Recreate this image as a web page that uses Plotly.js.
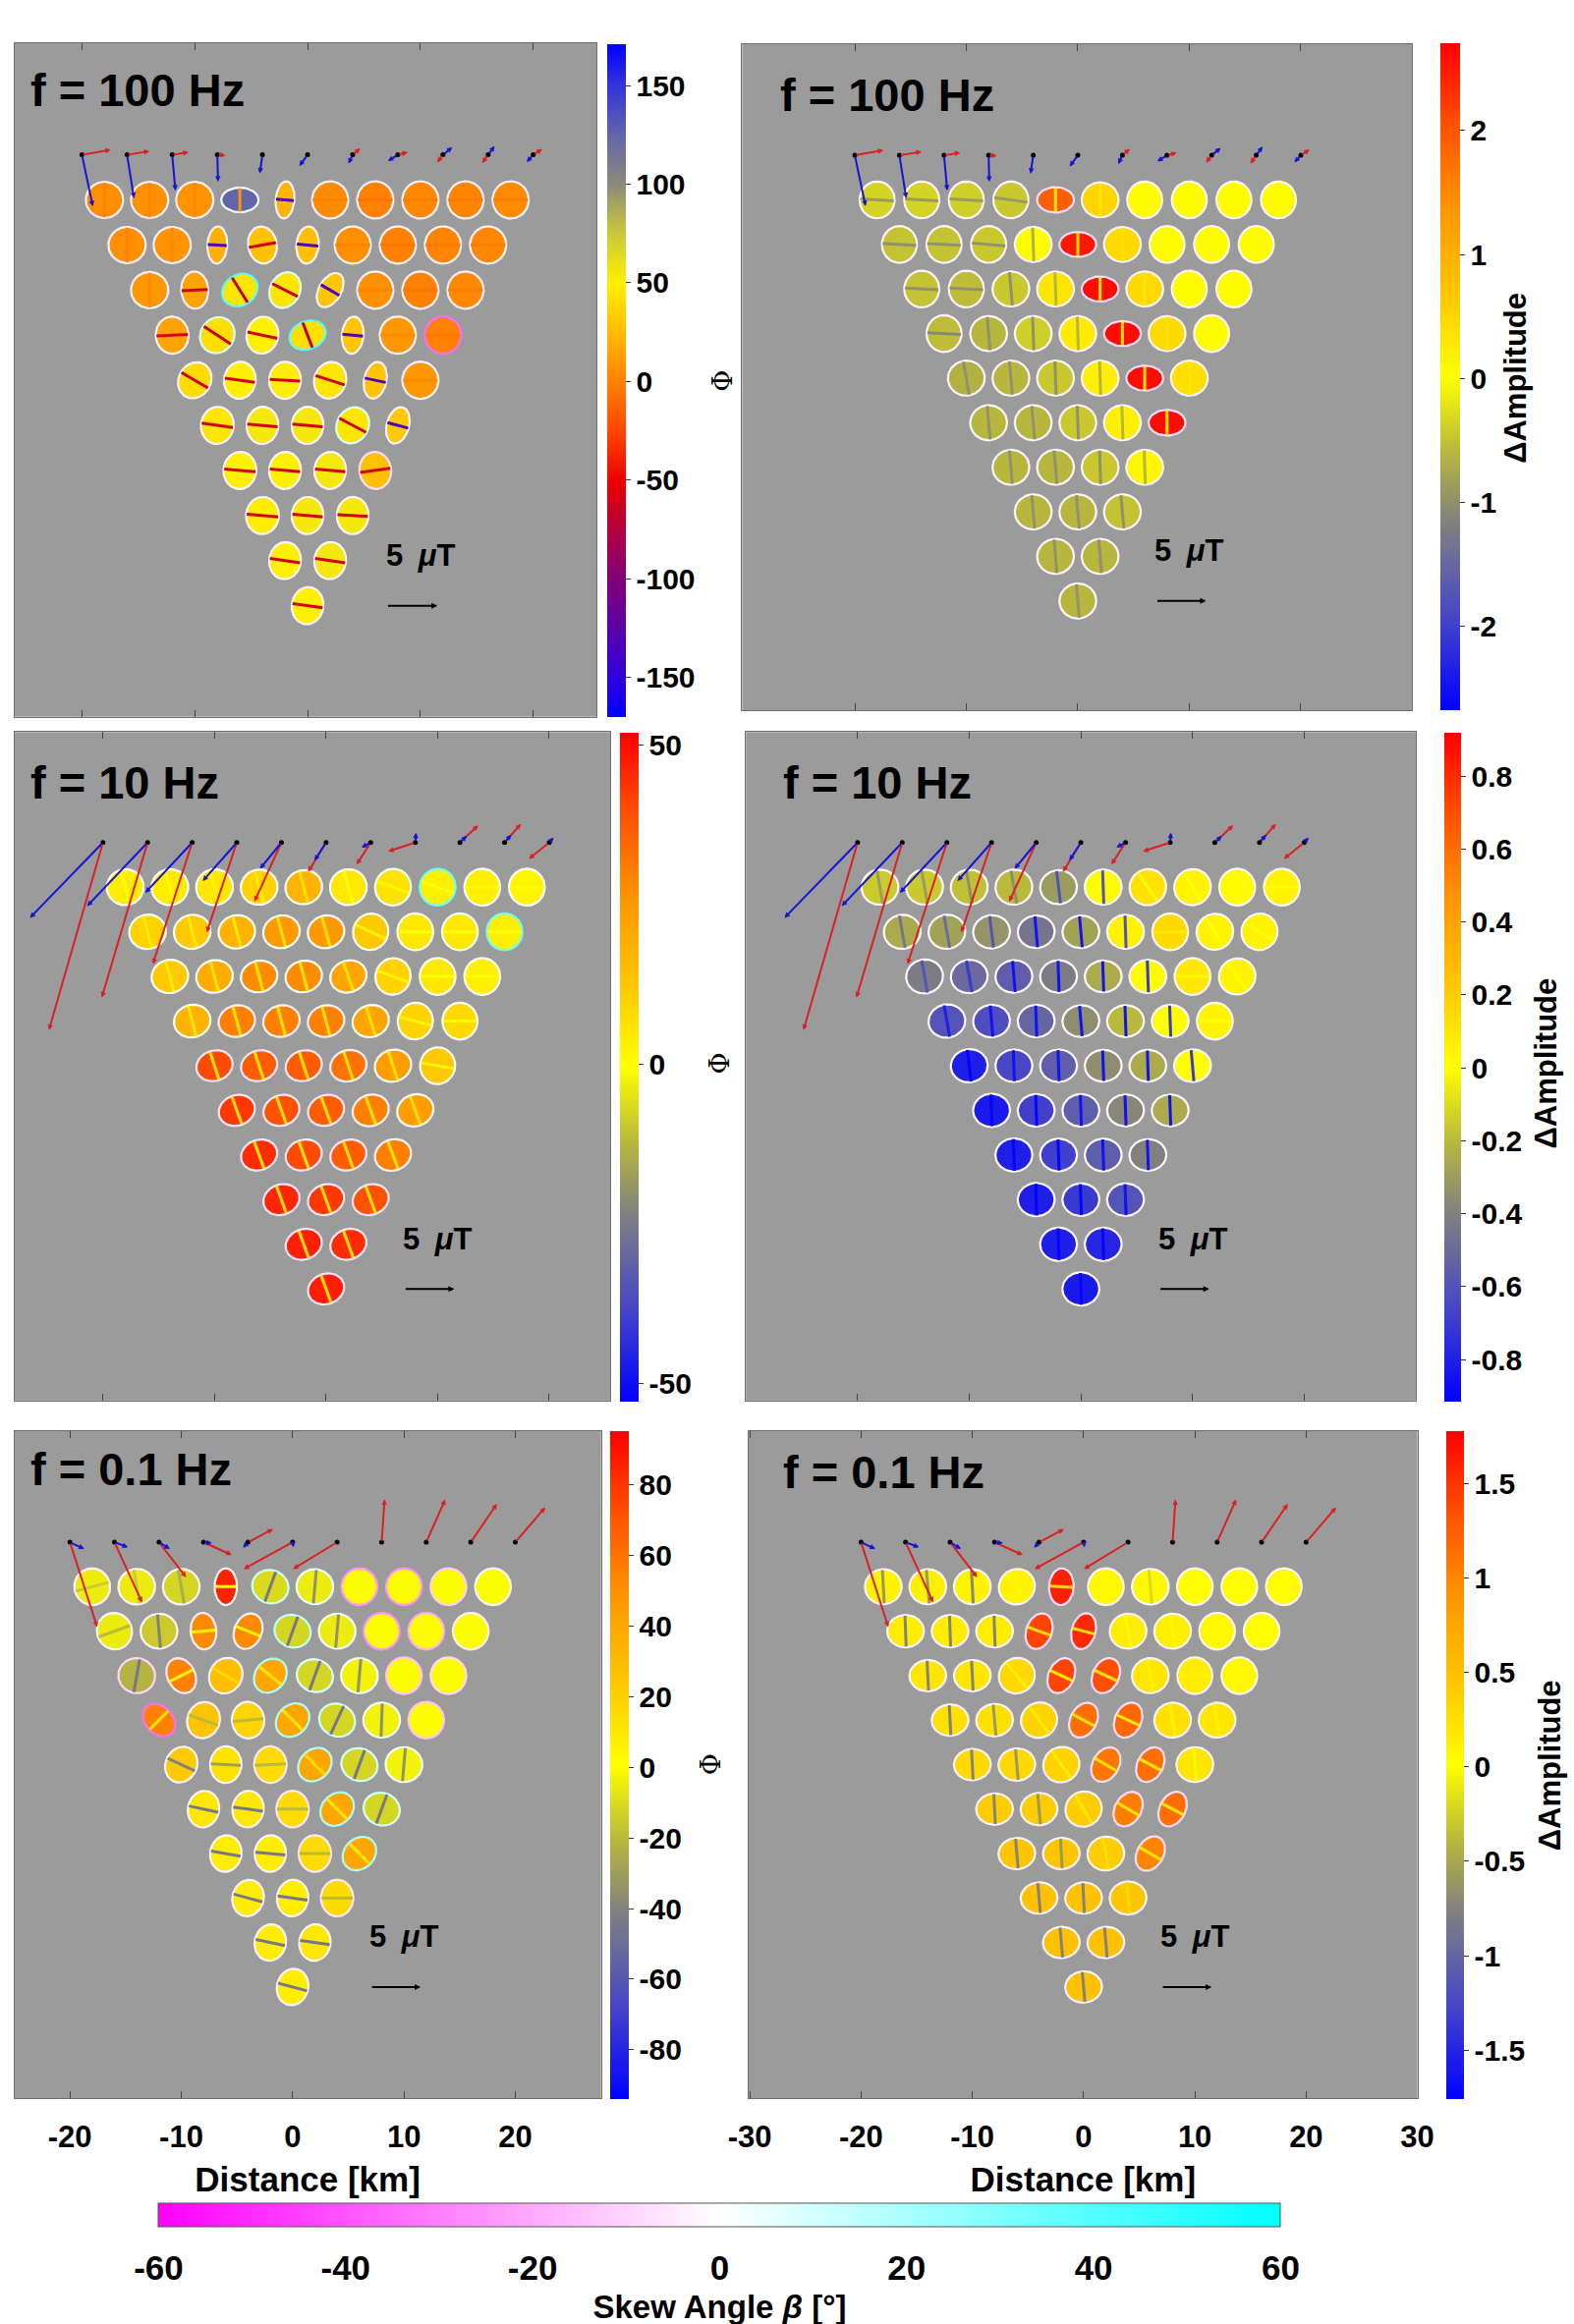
<!DOCTYPE html>
<html><head><meta charset="utf-8">
<script src="https://cdn.plot.ly/plotly-3.0.1.min.js"></script>
<style>html,body{margin:0;padding:0;background:#fff}</style>
</head><body><div id="chart" style="width:1602px;height:2366px"></div>
<script>
// ---------- station layout (km) ----------
const STATION_X = [-18,-14,-10,-6,-2,2,6,10,14,18, -16,-12,-8,-4,0,4,8,12,16, -14,-10,-6,-2,2,6,10,14, -12,-8,-4,0,4,8,12, -10,-6,-2,2,6,10, -8,-4,0,4,8, -6,-2,2,6, -4,0,4, -2,2, 0];
const STATION_Y = [18,18,18,18,18,18,18,18,18,18, 14,14,14,14,14,14,14,14,14, 10,10,10,10,10,10,10,10, 6,6,6,6,6,6,6, 2,2,2,2,2,2, -2,-2,-2,-2,-2, -6,-6,-6,-6, -10,-10,-10, -14,-14, -18];
const ARROW_X = [-20,-16,-12,-8,-4,0,4,8,12,16,20];
const ARROW_Y = [22,22,22,22,22,22,22,22,22,22,22];

// ---------- induction vectors (uT) ----------
const RE100_U = [2.84,2.2,1.61,0.81,0.13,0.17,0.74,0.97,-0.56,-0.58,0.87];
const RE100_V = [0.49,0.36,0.26,-0.06,0.06,0.11,0.64,0.26,-0.74,-0.81,0.58];
const IM100_U = [1.07,0.68,0.32,0.07,-0.26,-0.81,-0.42,-0.97,0.91,0.64,-0.64];
const IM100_V = [-5.07,-4.27,-3.52,-2.64,-1.84,-1.11,-0.87,-0.61,0.74,0.87,-0.71];
const RE10_U = [-5.38,-4.56,-3.92,-3.0,-2.69,-1.79,-1.4,-2.7,1.82,1.63,-2.02];
const RE10_V = [-18.67,-15.44,-12.11,-8.94,-5.89,-2.93,-2.18,-0.88,1.72,1.86,-1.63];
const IM10_U = [-7.27,-6.02,-4.67,-3.39,-2.14,-1.14,-0.91,0.07,0.69,0.67,0.44];
const IM10_V = [-7.5,-6.32,-5.0,-3.83,-2.62,-1.79,-0.49,0.98,0.66,0.78,0.5];
const RE01_U = [2.72,2.76,2.71,2.81,2.48,-4.88,-4.41,0.29,1.9,2.61,2.99];
const RE01_V = [-8.47,-6.02,-3.51,-1.28,1.31,-2.68,-2.68,4.28,4.28,3.83,3.48];
const IM01_U = [1.43,1.34,1.09,0.83,-0.5,0.1,0.06,0,0,0,0];
const IM01_V = [-0.67,-0.51,-0.67,-0.09,-0.56,-0.5,0.06,0.03,0,0,0];
const REF_UT = 5;

// ---------- 100 Hz, Phi ----------
const VAL_TL = [6,7,8,125,22,5,0,3,2,4, 6,8,20,28,27,6,0,2,3, 10,15,45,45,30,7,0,3, 15,42,50,42,30,10,0, 40,50,52,45,30,10, 45,55,55,45,32, 50,50,55,28, 48,55,55, 50,55, 50];
const BAR_TL = [1,2,3,8,-135,0,-5,-2,-3,-1, 1,3,-135,-62,-135,1,-5,-3,-2, 4,-62,-72,-68,-135,2,-5,-2, -58,-66,-62,-72,-135,4,-5, -66,-62,-62,-66,-135,4, -62,-62,-62,-66,-135, -62,-62,-62,-58, -62,-62,-62, -62,-62, -62];
const ANG_TL = [90,90,90,90,-5,0,0,0,0,0, 90,90,-3,10,-5,0,0,0,0, 90,3,-58,-27,-30,0,0,0, 3,-33,-12,-69,-5,0,0, -30,-8,-3,-18,-12,0, -8,-5,-5,-28,-15, -5,-5,-5,8, -5,-5,-3, -8,-8, -8];
const RAT_TL = [0.97,0.97,0.97,0.66,0.5,0.97,0.97,0.97,0.97,0.97, 0.97,0.97,0.53,0.77,0.6,0.97,0.97,0.97,0.97, 0.97,0.73,0.82,0.8,0.6,0.97,0.97,0.97, 0.88,0.9,0.85,0.75,0.58,0.97,0.97, 0.86,0.85,0.85,0.85,0.6,0.97, 0.88,0.85,0.85,0.85,0.6, 0.88,0.85,0.85,0.85, 0.88,0.85,0.85, 0.85,0.85, 0.85];
const SKEW_TL = [-4,-3,-3,5,-3,-3,-3,-3,-3,-3, -3,-3,-3,-3,-3,-3,-3,-3,-3, -3,-5,40,10,-3,-3,-3,-3, -3,12,-3,40,-3,-3,-35, -3,-3,-3,-3,-3,-3, -3,-3,-3,10,-3, -3,-3,-3,-8, -3,-3,-3, -3,-3, -3];

// ---------- 100 Hz, dAmplitude ----------
const VAL_TR = [-0.35,-0.35,-0.4,-0.45,1.9,0.5,0.05,0.05,0.05,0.05, -0.5,-0.5,-0.45,0.05,2.5,0.45,0.05,0.05,0.05, -0.5,-0.55,-0.45,0.3,2.6,0.45,0.05,0.05, -0.55,-0.6,-0.4,0.25,2.6,0.45,0.05, -0.65,-0.6,-0.45,0.2,2.6,0.4, -0.6,-0.6,-0.45,0.2,2.6, -0.6,-0.6,-0.45,0.1, -0.6,-0.6,-0.5, -0.6,-0.6, -0.6];
const BAR_TR = [-0.9,-0.9,-0.9,-0.9,0.3,0.3,0,0,0,0, -1,-1,-1,-0.7,0.4,0.3,0,0,0, -1,-1,-1,-0.6,0.3,0.3,0,0, -1.1,-1,-1,-0.6,0.3,0.3,0, -1,-1,-1,-0.6,0.3,0.3, -1,-1,-1,-0.6,0.3, -1,-1,-1,-0.6, -1,-1,-1, -1,-1, -1];
const ANG_TR = [-3,-3,-3,-8,90,90,0,0,0,0, -3,-3,-5,92,90,90,0,0,0, -3,-3,95,92,90,90,0,0, -3,95,92,92,90,90,0, 100,95,92,92,90,90, 95,95,92,92,90, 95,95,92,92, 95,95,95, 95,95, 95];
const RAT_TR = [0.95,0.95,0.95,0.95,0.69,0.95,0.95,0.95,0.95,0.95, 0.95,0.95,0.95,0.95,0.68,0.95,0.95,0.95,0.95, 0.95,0.95,0.95,0.95,0.68,0.95,0.95,0.95, 0.95,0.95,0.95,0.95,0.68,0.95,0.95, 0.95,0.95,0.95,0.95,0.68,0.95, 0.95,0.95,0.95,0.95,0.7, 0.95,0.95,0.95,0.95, 0.95,0.95,0.95, 0.95,0.95, 0.95];
const SKEW_TR = [-3,-3,-3,-3,-8,-3,-3,-3,-3,-3, -3,-3,-3,-3,-8,-3,-3,-3,-3, -3,-3,-3,-3,-8,-3,-3,-3, -3,-3,-3,-3,-8,-3,-3, -3,-3,-3,-3,-8,-3, -3,-3,-3,-3,-8, -3,-3,-3,-3, -3,-3,-3, -3,-3, -3];

// ---------- 10 Hz, Phi ----------
const VAL_ML = [4,4,5,10,18,5,6,3,3,2, 10,12,18,25,25,12,5,5,3, 12,20,28,28,22,10,5,3, 18,30,30,30,22,10,8, 40,37,37,33,24,12, 43,39,37,30,24, 45,40,37,30, 46,43,39, 47,45, 47];
const BAR_ML = [0,0,2,4,6,0,2,0,0,0, 4,4,5,6,6,2,0,0,0, 4,5,6,6,6,2,0,0, 5,6,6,6,6,2,0, 6,6,6,6,6,2, 6,6,6,6,6, 6,6,6,6, 6,6,6, 6,6, 6];
const ANG_ML = [105,105,105,105,105,105,-20,-20,0,0, 105,105,105,105,105,-25,0,0,0, 105,105,105,105,110,-20,0,0, 105,105,105,105,108,-15,0, 108,108,108,108,108,-10, 110,110,110,110,110, 110,110,110,110, 110,110,110, 110,110, 110];
const RAT_ML = [0.97,0.97,0.97,0.95,0.92,0.97,0.97,0.97,0.97,0.97, 0.93,0.92,0.9,0.88,0.88,0.95,0.97,0.97,0.97, 0.9,0.88,0.85,0.85,0.86,0.95,0.97,0.97, 0.88,0.85,0.85,0.85,0.86,0.95,0.95, 0.82,0.82,0.82,0.84,0.86,0.95, 0.82,0.82,0.82,0.84,0.86, 0.82,0.82,0.82,0.84, 0.82,0.82,0.82, 0.82,0.82, 0.82];
const SKEW_ML = [0,0,0,0,0,0,5,35,0,0, 0,0,0,0,0,0,0,5,35, 0,0,0,0,0,0,0,0, 0,-3,-3,-3,0,0,0, -6,-6,-6,-3,0,0, -6,-6,-6,-3,0, -6,-6,-6,-3, -6,-6,-6, -6,-6, -6];

// ---------- 10 Hz, dAmplitude ----------
const VAL_MR = [-0.15,-0.15,-0.18,-0.2,-0.3,0.02,0.12,0.05,0.02,0.05, -0.25,-0.28,-0.33,-0.45,-0.28,0.05,0.15,0.05,0.05, -0.42,-0.5,-0.55,-0.42,-0.25,0.02,0.1,0.05, -0.6,-0.62,-0.52,-0.35,-0.2,0.0,0.05, -0.8,-0.65,-0.55,-0.35,-0.25,0.0, -0.82,-0.68,-0.55,-0.38,-0.25, -0.8,-0.68,-0.55,-0.4, -0.8,-0.7,-0.6, -0.8,-0.78, -0.82];
const BAR_MR = [-0.3,-0.3,-0.35,-0.35,-0.6,-0.6,0.02,0,0,0, -0.45,-0.5,-0.6,-0.85,-0.85,-0.6,0.08,0,0, -0.6,-0.7,-0.85,-0.85,-0.85,-0.7,0.03,0, -0.8,-0.85,-0.85,-0.85,-0.85,-0.7,0, -0.9,-0.85,-0.85,-0.85,-0.85,-0.7, -0.9,-0.9,-0.85,-0.85,-0.85, -0.9,-0.9,-0.85,-0.85, -0.9,-0.9,-0.85, -0.9,-0.9, -0.9];
const ANG_MR = [100,100,100,100,97,92,-55,-60,0,0, 100,100,97,95,95,92,0,-60,-30, 100,100,95,92,92,92,0,-55, 100,95,92,95,92,92,0, 97,92,92,92,92,95, 92,92,92,92,92, 92,92,92,92, 92,92,92, 92,92, 92];
const RAT_MR = [0.95,0.95,0.95,0.95,0.92,0.95,0.97,0.97,0.97,0.97, 0.92,0.92,0.9,0.88,0.88,0.92,0.97,0.97,0.97, 0.92,0.9,0.88,0.88,0.86,0.9,0.97,0.97, 0.9,0.88,0.88,0.86,0.86,0.88,0.97, 0.9,0.88,0.88,0.86,0.86,0.88, 0.9,0.88,0.88,0.86,0.86, 0.9,0.88,0.88,0.86, 0.9,0.88,0.88, 0.9,0.9, 0.9];
const SKEW_MR = [-2,-2,-2,-2,-2,-2,-2,-2,-2,-2, -2,-2,-2,-2,-2,-2,-2,-2,-2, -2,-2,-2,-2,-2,-2,-2,-2, -2,-2,-2,-2,-2,-2,-2, -2,-2,-2,-2,-2,-2, -2,-2,-2,-2,-2, -2,-2,-2,-2, -2,-2,-2, -2,-2, -2];

// ---------- 0.1 Hz, Phi ----------
const VAL_BL = [-5,-5,-12,85,-10,-5,0,0,0,0, -5,-15,52,52,-12,-5,0,0,0, -22,55,28,40,-12,-3,0,0, 55,25,18,40,-12,-3,0, 22,12,15,40,-12,-3, 10,10,15,40,-12, 8,8,15,40, 8,8,15, 8,10, 8];
const BAR_BL = [-15,-15,-25,0,-45,-35,0,0,0,0, -20,-40,5,5,-45,-35,0,0,0, -45,5,15,10,-45,-35,0,0, 10,-20,-20,10,-45,-35,0, -40,-30,-20,15,-45,-35, -45,-45,-20,10,-45, -45,-45,-20,10, -45,-45,-20, -45,-45, -45];
const ANG_BL = [15,100,100,0,70,85,0,0,0,0, 20,95,5,-22,70,85,0,0,0, 80,27,-30,-39,70,85,0,0, 45,-20,5,-45,65,88,0, -25,-3,3,-45,70,85, -12,-8,0,-45,70, -10,-5,0,-45, -15,-8,0, -12,-8, -15];
const RAT_BL = [0.97,0.97,0.97,0.61,0.9,0.95,0.97,0.97,0.97,0.97, 0.95,0.95,0.7,0.75,0.88,0.95,0.97,0.97,0.97, 0.95,0.75,0.88,0.82,0.88,0.95,0.97,0.97, 0.75,0.88,0.88,0.82,0.88,0.95,0.97, 0.85,0.85,0.88,0.82,0.88,0.95, 0.85,0.85,0.88,0.82,0.88, 0.85,0.85,0.88,0.82, 0.85,0.85,0.88, 0.85,0.85, 0.85];
const SKEW_BL = [-3,-3,-3,-3,12,5,-25,-25,-12,-3, -3,-3,-3,-3,15,3,-25,-20,-5, -10,-5,-3,20,10,3,-15,-10, -35,-3,-3,20,12,3,-15, -3,-3,-6,18,12,3, -3,-3,-6,20,10, -3,-3,-6,20, -3,-3,-6, -3,-3, -3];

// ---------- 0.1 Hz, dAmplitude ----------
const VAL_BR = [0.1,0.12,0.1,0.1,1.6,0.05,0.05,0.02,0.02,0.02, 0.15,0.15,0.15,1.4,1.55,0.15,0.12,0.05,0.02, 0.2,0.2,0.3,1.4,1.35,0.2,0.15,0.05, 0.25,0.25,0.35,1.15,1.2,0.25,0.2, 0.3,0.3,0.35,1.1,1.15,0.2, 0.4,0.4,0.4,1.05,1.15, 0.45,0.45,0.4,1.0, 0.5,0.5,0.45, 0.5,0.5, 0.5];
const BAR_BR = [-0.6,-0.6,-0.7,0.05,0.3,0.05,-0.2,0.02,0.02,0.02, -0.75,-0.75,-0.75,0.2,0.2,0.05,0.05,0.05,0.02, -0.75,-0.75,0.15,0.2,0.2,0.1,0.1,0.05, -0.75,-0.6,0.15,0.2,0.2,0.1,0.1, -0.75,-0.6,0.15,0.2,0.2,0.05, -0.75,-0.6,0.2,0.2,0.2, -0.75,-0.6,0.25,0.2, -0.75,-0.75,0.3, -0.75,-0.75, -0.75];
const ANG_BR = [93,95,93,-52,-3,0,95,0,0,0, 92,92,92,-20,-15,100,100,0,0, 93,93,-50,-25,-25,100,0,0, 93,95,-55,-28,-25,100,100, 93,95,-55,-30,-28,95, 93,95,-60,-30,-28, 95,93,100,-30, 95,93,95, 95,95, 95];
const RAT_BR = [0.95,0.95,0.95,0.95,0.67,0.97,0.97,0.97,0.97,0.97, 0.88,0.88,0.88,0.7,0.65,0.95,0.95,0.97,0.97, 0.85,0.85,0.95,0.7,0.72,0.95,0.95,0.97, 0.85,0.88,0.95,0.72,0.72,0.95,0.95, 0.85,0.88,0.95,0.72,0.7,0.95, 0.85,0.88,0.95,0.72,0.7, 0.85,0.85,0.92,0.72, 0.85,0.85,0.9, 0.85,0.85, 0.85];
const SKEW_BR = [-3,-3,-3,-3,-8,-3,-3,-3,-3,-3, -3,-3,-3,-8,-8,-3,-3,-3,-3, -3,-3,-3,-8,-8,-3,-3,-3, -3,-3,-3,-8,-8,-3,-3, -3,-3,-3,-8,-8,-3, -3,-3,-3,-8,-8, -3,-3,-3,-8, -3,-3,-3, -3,-3, -3];

// ---------- tick labels ----------
const TICKS_TL = [-150,-100,-50,0,50,100,150];
const TICKS_TR = [-2,-1,0,1,2];
const TICKS_ML = [-50,0,50];
const TICKS_MR = [-0.8,-0.6,-0.4,-0.2,0,0.2,0.4,0.6,0.8];
const TICKS_BL = [-80,-60,-40,-20,0,20,40,60,80];
const TICKS_BR = [-1.5,-1,-0.5,0,0.5,1,1.5];
const TICKS_SKEW = [-60,-40,-20,0,20,40,60];
const XTICKS_L = [-20,-10,0,10,20];
const XTICKS_R = [-30,-20,-10,0,10,20,30];

// ---------- colour maps ----------
const CS_STD = [[0,[0,0,255]],[0.14,[70,70,200]],[0.28,[128,128,128]],[0.39,[185,185,60]],[0.5,[255,255,0]],[0.62,[255,200,0]],[0.75,[255,150,0]],[0.87,[255,85,0]],[1,[255,0,0]]];
const CS_CYC = [[0,[0,0,255]],[0.06,[50,0,220]],[0.13,[90,0,170]],[0.205,[130,0,120]],[0.28,[180,0,60]],[0.35,[235,0,0]],[0.425,[255,70,0]],[0.5,[255,130,0]],[0.57,[255,185,0]],[0.645,[255,240,0]],[0.72,[200,200,60]],[0.79,[140,140,120]],[0.865,[100,100,170]],[0.94,[50,50,220]],[1,[0,0,255]]];
const CS_SKEW = [[0,[255,0,255]],[0.5,[255,255,255]],[1,[0,255,255]]];

const W = 1602, H = 2366;
const FONT = 'Liberation Sans, Arial, Helvetica, sans-serif';
const D = 3.3, NPT = 48, KM_PER_UT = 0.9;

function toPlotly(cs){ return cs.map(s => [s[0], 'rgb(' + s[1].join(',') + ')']); }
function colorAt(cs, cmin, cmax, v){
  let t = (v - cmin) / (cmax - cmin); t = Math.max(0, Math.min(1, t));
  for (let i = 1; i < cs.length; i++){
    if (t <= cs[i][0]){
      const a = cs[i-1], b = cs[i], u = (t - a[0]) / (b[0] - a[0]);
      const c = a[1].map((ca, k) => Math.round(ca + (b[1][k] - ca) * u));
      return 'rgb(' + c.join(',') + ')';
    }
  }
  return 'rgb(' + cs[cs.length-1][1].join(',') + ')';
}

const PANELS = [
  {n:1, val:VAL_TL, bar:BAR_TL, ang:ANG_TL, rat:RAT_TL, skew:SKEW_TL, cs:CS_CYC, cmin:-170, cmax:171,
   ru:RE100_U, rv:RE100_V, iu:IM100_U, iv:IM100_V, title:'f = 100 Hz', tx:0.0245, ty:0.93,
   px:[14.5,607,43.8,730], xr:[-26.0,25.6], yr:[-27.85,31.92],
   cb:{x:618, w:18.5, y0:44.7, y1:730, ticks:TICKS_TL, title:'Φ', tpx:736, tpy:388}},
  {n:2, val:VAL_TR, bar:BAR_TR, ang:ANG_TR, rat:RAT_TR, skew:SKEW_TR, cs:CS_STD, cmin:-2.68, cmax:2.70,
   ru:RE100_U, rv:RE100_V, iu:IM100_U, iv:IM100_V, title:'f = 100 Hz', tx:0.0537, ty:0.9235,
   px:[755.4,1437,44.7,723.3], xr:[-30.1,29.96], yr:[-27.8,32.0],
   cb:{x:1465.7, w:20.3, y0:44.7, y1:723.3, ticks:TICKS_TR, title:'ΔAmplitude', tpx:1543, tpy:385}},
  {n:3, val:VAL_ML, bar:BAR_ML, ang:ANG_ML, rat:RAT_ML, skew:SKEW_ML, cs:CS_STD, cmin:-52.7, cmax:52,
   ru:RE10_U, rv:RE10_V, iu:IM10_U, iv:IM10_V, title:'f = 10 Hz', tx:0.0239, ty:0.9245,
   px:[14.5,621.4,745.6,1426.4], xr:[-27.95,25.5], yr:[-28.0,31.9],
   cb:{x:631, w:18.5, y0:745.6, y1:1426.4, ticks:TICKS_ML, title:'Φ', tpx:733, tpy:1083}},
  {n:4, val:VAL_MR, bar:BAR_MR, ang:ANG_MR, rat:RAT_MR, skew:SKEW_MR, cs:CS_STD, cmin:-0.914, cmax:0.92,
   ru:RE10_U, rv:RE10_V, iu:IM10_U, iv:IM10_V, title:'f = 10 Hz', tx:0.0525, ty:0.9245,
   px:[759.2,1441,745.6,1426.4], xr:[-30.0,30.0], yr:[-28.0,31.9],
   cb:{x:1470, w:16.6, y0:745.6, y1:1426.4, ticks:TICKS_MR, title:'ΔAmplitude', tpx:1574, tpy:1083}},
  {n:5, val:VAL_BL, bar:BAR_BL, ang:ANG_BL, rat:RAT_BL, skew:SKEW_BL, cs:CS_STD, cmin:-94, cmax:95.1,
   ru:RE01_U, rv:RE01_V, iu:IM01_U, iv:IM01_V, title:'f = 0.1 Hz', tx:0.0243, ty:0.9425,
   px:[14.5,611.7,1457.5,2137], xr:[-25.0,27.7], yr:[-28.0,32.0], xt:XTICKS_L,
   cb:{x:621.4, w:19.4, y0:1457.5, y1:2137, ticks:TICKS_BL, title:'Φ', tpx:723, tpy:1797}},
  {n:6, val:VAL_BR, bar:BAR_BR, ang:ANG_BR, rat:RAT_BR, skew:SKEW_BR, cs:CS_STD, cmin:-1.76, cmax:1.775,
   ru:RE01_U, rv:RE01_V, iu:IM01_U, iv:IM01_V, title:'f = 0.1 Hz', tx:0.0485, ty:0.939,
   px:[762,1442.6,1457.5,2137], xr:[-30.1,30.0], yr:[-28.0,32.0], xt:XTICKS_R,
   cb:{x:1472, w:18, y0:1457.5, y1:2137, ticks:TICKS_BR, title:'ΔAmplitude', tpx:1577, tpy:1798}}
];

const traces = [], annotations = [];
const layout = {
  width: W, height: H, margin:{l:0,r:0,t:0,b:0}, paper_bgcolor:'#ffffff', plot_bgcolor:'#9b9b9b',
  showlegend:false, hovermode:false, font:{family:FONT, color:'#000'}, annotations: annotations
};

function ellipse(cx, cy, ang, rat){
  const a = D/2, b = D*rat/2, th = (ang + 90) * Math.PI/180, xs = [], ys = [];
  for (let i = 0; i <= NPT; i++){
    const t = 2*Math.PI*i/NPT, u = a*Math.cos(t), v = b*Math.sin(t);
    xs.push(cx + u*Math.cos(th) - v*Math.sin(th));
    ys.push(cy + u*Math.sin(th) + v*Math.cos(th));
  }
  return [xs, ys];
}
function barLine(cx, cy, ang, rat){
  const h = D*rat/2*0.96, p = ang*Math.PI/180;
  return [[cx - h*Math.cos(p), cx + h*Math.cos(p)], [cy - h*Math.sin(p), cy + h*Math.sin(p)]];
}
function arrow(xa, ya, x0, y0, u, v, color){
  if (Math.hypot(u, v) < 0.08) return;
  annotations.push({xref:xa, yref:ya, axref:xa, ayref:ya, ax:x0, ay:y0,
    x:x0 + u*KM_PER_UT, y:y0 + v*KM_PER_UT, showarrow:true, text:'',
    arrowhead:2, arrowsize:0.55, arrowwidth:2, arrowcolor:color, standoff:0, startstandoff:0});
}

PANELS.forEach(p => {
  const sx = p.n === 1 ? '' : String(p.n);
  const xa = 'x' + sx, ya = 'y' + sx;
  traces.push({type:'scatter', mode:'markers', x:STATION_X, y:STATION_Y, xaxis:xa, yaxis:ya,
    hoverinfo:'skip', marker:{size:1, color:p.val, coloraxis:'coloraxis' + sx}});
  if (p.n === 1){
    traces.push({type:'scatter', mode:'markers', x:STATION_X, y:STATION_Y, xaxis:xa, yaxis:ya,
      hoverinfo:'skip', marker:{size:1, color:p.skew, coloraxis:'coloraxis7'}});
  }
  for (let i = 0; i < STATION_X.length; i++){
    const e = ellipse(STATION_X[i], STATION_Y[i], p.ang[i], p.rat[i]);
    traces.push({type:'scatter', mode:'lines', x:e[0], y:e[1], xaxis:xa, yaxis:ya, fill:'toself',
      fillcolor: colorAt(p.cs, p.cmin, p.cmax, p.val[i]),
      line:{color: colorAt(CS_SKEW, -60, 60, p.skew[i]), width:2.2}, hoverinfo:'skip'});
    const b = barLine(STATION_X[i], STATION_Y[i], p.ang[i], p.rat[i]);
    traces.push({type:'scatter', mode:'lines', x:b[0], y:b[1], xaxis:xa, yaxis:ya,
      line:{color: colorAt(p.cs, p.cmin, p.cmax, p.bar[i]), width:3}, hoverinfo:'skip'});
  }
  traces.push({type:'scatter', mode:'markers', x:ARROW_X, y:ARROW_Y, xaxis:xa, yaxis:ya,
    hoverinfo:'skip', marker:{size:5, color:'#000'}});
  for (let k = 0; k < ARROW_X.length; k++){
    arrow(xa, ya, ARROW_X[k], ARROW_Y[k], p.ru[k], p.rv[k], 'rgb(218,32,32)');
    arrow(xa, ya, ARROW_X[k], ARROW_Y[k], p.iu[k], p.iv[k], 'rgb(20,20,215)');
  }
  annotations.push({xref:xa, yref:ya, axref:xa, ayref:ya, ax:7, ay:-18, x:7 + REF_UT*KM_PER_UT, y:-18,
    showarrow:true, text:'', arrowhead:2, arrowsize:0.6, arrowwidth:2, arrowcolor:'#000', standoff:0});
  annotations.push({xref:xa, yref:ya, x:10, y:-13.5, showarrow:false, text:'5\u2002<i>μ</i>T',
    font:{family:FONT, size:31, weight:'bold', color:'#000'}});
  annotations.push({xref:xa + ' domain', yref:ya + ' domain', x:p.tx, y:p.ty, xanchor:'left', yanchor:'middle',
    showarrow:false, text:p.title, font:{family:FONT, size:47, weight:'bold', color:'#000'}});

  const isPhi = p.cb.title === 'Φ';
  annotations.push({xref:'paper', yref:'paper', x:p.cb.tpx/W, y:1 - p.cb.tpy/H, xanchor:'center', yanchor:'middle',
    textangle:-90, showarrow:false, text:p.cb.title,
    font: isPhi ? {family:'DejaVu Serif, Liberation Serif, serif', size:27, color:'#000'}
                : {family:FONT, size:31, weight:'bold', color:'#000'}});

  const xax = {domain:[p.px[0]/W, p.px[1]/W], range:p.xr, anchor:ya, showgrid:false, zeroline:false,
    ticks:'inside', ticklen:7, tickcolor:'#444', tickwidth:1, tickmode:'array',
    tickvals: p.xt ? p.xt : XTICKS_L, showline:true, linecolor:'#6e6e6e', linewidth:1, mirror:'ticks',
    showticklabels:false, fixedrange:true};
  if (p.xt){
    xax.showticklabels = true;
    xax.ticktext = p.xt.map(String);
    xax.tickfont = {family:FONT, size:31, weight:'bold', color:'#000'};
    xax.ticklabelstandoff = 12;
    xax.title = {text:'Distance [km]', font:{family:FONT, size:35, weight:'bold', color:'#000'}, standoff:14};
  }
  layout['xaxis' + sx] = xax;
  layout['yaxis' + sx] = {domain:[1 - p.px[3]/H, 1 - p.px[2]/H], range:p.yr, anchor:xa, showgrid:false,
    zeroline:false, showticklabels:false, ticks:'', showline:true, linecolor:'#6e6e6e', linewidth:1,
    mirror:true, fixedrange:true};

  layout['coloraxis' + sx] = {cmin:p.cmin, cmax:p.cmax, colorscale:toPlotly(p.cs), showscale:true,
    colorbar:{x:p.cb.x/W, xanchor:'left', xpad:0, y:1 - ((p.cb.y0 + p.cb.y1)/2)/H, yanchor:'middle', ypad:0,
      len:p.cb.y1 - p.cb.y0, lenmode:'pixels', thickness:p.cb.w, thicknessmode:'pixels', outlinewidth:0,
      tickmode:'array', tickvals:p.cb.ticks, ticktext:p.cb.ticks.map(String), ticks:'outside', ticklen:5,
      tickcolor:'#333', tickfont:{family:FONT, size:30, weight:'bold', color:'#000'}, title:{text:''}}};
});

layout.coloraxis7 = {cmin:-60, cmax:60, colorscale:toPlotly(CS_SKEW), showscale:true,
  colorbar:{orientation:'h', x:(161.4 + 1303.5)/2/W, xanchor:'center', xpad:0, y:1 - 2242.7/H, yanchor:'top', ypad:0,
    len:1142, lenmode:'pixels', thickness:24, thicknessmode:'pixels', outlinewidth:1, outlinecolor:'#555',
    tickmode:'array', tickvals:TICKS_SKEW, ticktext:TICKS_SKEW.map(String), ticks:'outside', ticklen:12,
    tickcolor:'rgba(0,0,0,0)', tickfont:{family:FONT, size:35, weight:'bold', color:'#000'},
    title:{text:'Skew Angle <i>β</i> [°]', side:'bottom', font:{family:FONT, size:33, weight:'bold', color:'#000'}}}};

Plotly.newPlot('chart', traces, layout, {staticPlot:true, displayModeBar:false});
</script></body></html>
